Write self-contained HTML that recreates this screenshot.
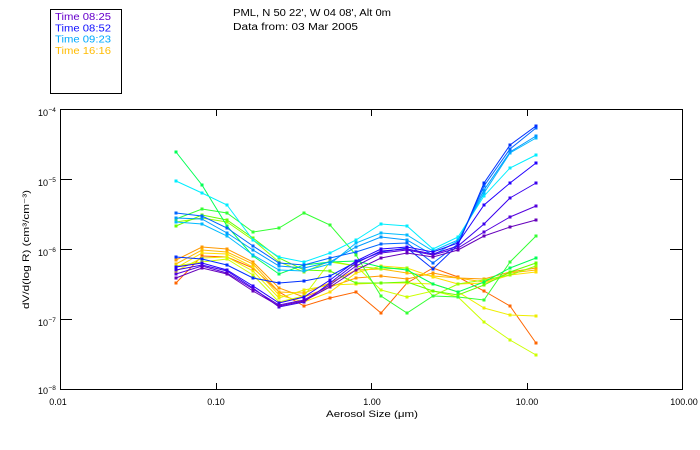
<!DOCTYPE html>
<html>
<head>
<meta charset="utf-8">
<style>
  html, body { margin:0; padding:0; background:#fff; }
  svg { display:block; }
  text { font-family: "Liberation Sans", "DejaVu Sans", sans-serif; }
</style>
</head>
<body>
<svg width="700" height="450" viewBox="0 0 700 450" xmlns="http://www.w3.org/2000/svg">
  <rect x="0" y="0" width="700" height="450" fill="#fff"/>
  <defs>
    <marker id="mV1" markerWidth="3" markerHeight="3" refX="1.5" refY="1.5" markerUnits="userSpaceOnUse"><rect width="3" height="3" fill="#6600bb"/></marker>
    <marker id="mV2" markerWidth="3" markerHeight="3" refX="1.5" refY="1.5" markerUnits="userSpaceOnUse"><rect width="3" height="3" fill="#5500dd"/></marker>
    <marker id="mV3" markerWidth="3" markerHeight="3" refX="1.5" refY="1.5" markerUnits="userSpaceOnUse"><rect width="3" height="3" fill="#3a00ee"/></marker>
    <marker id="mV4" markerWidth="3" markerHeight="3" refX="1.5" refY="1.5" markerUnits="userSpaceOnUse"><rect width="3" height="3" fill="#2200ff"/></marker>
    <marker id="mV5" markerWidth="3" markerHeight="3" refX="1.5" refY="1.5" markerUnits="userSpaceOnUse"><rect width="3" height="3" fill="#0030ff"/></marker>
    <marker id="mC1" markerWidth="3" markerHeight="3" refX="1.5" refY="1.5" markerUnits="userSpaceOnUse"><rect width="3" height="3" fill="#0066ff"/></marker>
    <marker id="mC2" markerWidth="3" markerHeight="3" refX="1.5" refY="1.5" markerUnits="userSpaceOnUse"><rect width="3" height="3" fill="#0099ff"/></marker>
    <marker id="mC3" markerWidth="3" markerHeight="3" refX="1.5" refY="1.5" markerUnits="userSpaceOnUse"><rect width="3" height="3" fill="#00bbff"/></marker>
    <marker id="mC4" markerWidth="3" markerHeight="3" refX="1.5" refY="1.5" markerUnits="userSpaceOnUse"><rect width="3" height="3" fill="#00eeff"/></marker>
    <marker id="mG1" markerWidth="3" markerHeight="3" refX="1.5" refY="1.5" markerUnits="userSpaceOnUse"><rect width="3" height="3" fill="#00ff55"/></marker>
    <marker id="mG2" markerWidth="3" markerHeight="3" refX="1.5" refY="1.5" markerUnits="userSpaceOnUse"><rect width="3" height="3" fill="#33ff33"/></marker>
    <marker id="mG3" markerWidth="3" markerHeight="3" refX="1.5" refY="1.5" markerUnits="userSpaceOnUse"><rect width="3" height="3" fill="#66ff00"/></marker>
    <marker id="mG4" markerWidth="3" markerHeight="3" refX="1.5" refY="1.5" markerUnits="userSpaceOnUse"><rect width="3" height="3" fill="#99ff00"/></marker>
    <marker id="mY2" markerWidth="3" markerHeight="3" refX="1.5" refY="1.5" markerUnits="userSpaceOnUse"><rect width="3" height="3" fill="#ccff00"/></marker>
    <marker id="mY1" markerWidth="3" markerHeight="3" refX="1.5" refY="1.5" markerUnits="userSpaceOnUse"><rect width="3" height="3" fill="#eeee00"/></marker>
    <marker id="mO4" markerWidth="3" markerHeight="3" refX="1.5" refY="1.5" markerUnits="userSpaceOnUse"><rect width="3" height="3" fill="#ffdd00"/></marker>
    <marker id="mO3" markerWidth="3" markerHeight="3" refX="1.5" refY="1.5" markerUnits="userSpaceOnUse"><rect width="3" height="3" fill="#ffbb00"/></marker>
    <marker id="mO2" markerWidth="3" markerHeight="3" refX="1.5" refY="1.5" markerUnits="userSpaceOnUse"><rect width="3" height="3" fill="#ff9900"/></marker>
    <marker id="mO1" markerWidth="3" markerHeight="3" refX="1.5" refY="1.5" markerUnits="userSpaceOnUse"><rect width="3" height="3" fill="#ff6600"/></marker>
  </defs>

  <!-- Legend box -->
  <rect x="50.5" y="9.5" width="71" height="84" fill="none" stroke="#000" stroke-width="1" shape-rendering="crispEdges"/>
  <text x="55" y="20" font-size="10" fill="#6600cc" textLength="56" lengthAdjust="spacingAndGlyphs">Time 08:25</text>
  <text x="55" y="31.3" font-size="10" fill="#1010ff" textLength="56" lengthAdjust="spacingAndGlyphs">Time 08:52</text>
  <text x="55" y="42.7" font-size="10" fill="#00aaff" textLength="56" lengthAdjust="spacingAndGlyphs">Time 09:23</text>
  <text x="55" y="54" font-size="10" fill="#ffbb00" textLength="56" lengthAdjust="spacingAndGlyphs">Time 16:16</text>

  <!-- Title -->
  <text x="233" y="16" font-size="10" fill="#000" textLength="158" lengthAdjust="spacingAndGlyphs">PML, N 50 22', W 04 08', Alt 0m</text>
  <text x="233" y="30" font-size="10" fill="#000" textLength="125" lengthAdjust="spacingAndGlyphs">Data from: 03 Mar 2005</text>

  <!-- Axes box -->
  <g stroke="#000" stroke-width="1" shape-rendering="crispEdges" fill="none">
    <rect x="60.5" y="109.5" width="622" height="280"/>
    <!-- left / right y ticks -->
    <line x1="60" y1="179.5" x2="72" y2="179.5"/>
    <line x1="60" y1="249.5" x2="72" y2="249.5"/>
    <line x1="60" y1="319.5" x2="72" y2="319.5"/>
    <line x1="670" y1="179.5" x2="682" y2="179.5"/>
    <line x1="670" y1="249.5" x2="682" y2="249.5"/>
    <line x1="670" y1="319.5" x2="682" y2="319.5"/>
    <!-- top / bottom x ticks -->
    <line x1="216.5" y1="110" x2="216.5" y2="116"/>
    <line x1="371.5" y1="110" x2="371.5" y2="116"/>
    <line x1="527.5" y1="110" x2="527.5" y2="116"/>
    <line x1="216.5" y1="383" x2="216.5" y2="389"/>
    <line x1="371.5" y1="383" x2="371.5" y2="389"/>
    <line x1="527.5" y1="383" x2="527.5" y2="389"/>
  </g>

  <!-- Y tick labels -->
  <g font-size="9" fill="#000">
    <text x="38" y="116">10</text><text x="48.5" y="112" font-size="6.5">−4</text>
    <text x="38" y="186">10</text><text x="48.5" y="182" font-size="6.5">−5</text>
    <text x="38" y="256">10</text><text x="48.5" y="252" font-size="6.5">−6</text>
    <text x="38" y="326">10</text><text x="48.5" y="322" font-size="6.5">−7</text>
    <text x="38" y="394">10</text><text x="48.5" y="390" font-size="6.5">−8</text>
  </g>

  <!-- X tick labels -->
  <g font-size="9" fill="#000" text-anchor="middle">
    <text x="58" y="405">0.01</text>
    <text x="216" y="405">0.10</text>
    <text x="372" y="405">1.00</text>
    <text x="527" y="405">10.00</text>
    <text x="684" y="405">100.00</text>
  </g>

  <!-- Axis titles -->
  <text x="372" y="417" font-size="9.5" fill="#000" text-anchor="middle" textLength="92" lengthAdjust="spacingAndGlyphs">Aerosol Size (μm)</text>
  <text transform="translate(29,249.5) rotate(-90)" x="0" y="0" font-size="9.5" fill="#000" text-anchor="middle" textLength="119" lengthAdjust="spacingAndGlyphs">dV/d(log R) (cm³/cm⁻³)</text>

  <!-- Series -->
  <g fill="none" stroke-width="1">
    <polyline stroke="#ff6600" style="marker:url(#mO1)" points="176,283 202,256 227,257 253,268 279,292 304,306 330,298 356,292 381,313 407,283 433,268 458,277 484,291 510,306 536,343"/>
    <polyline stroke="#ff9900" style="marker:url(#mO2)" points="176,260 202,247 227,249 253,262 279,288 304,297 330,287 356,278 381,276 407,279 433,273 458,278 484,279 510,272 536,268"/>
    <polyline stroke="#ffbb00" style="marker:url(#mO3)" points="176,264 202,250 227,252 253,264 279,292 304,293 330,283 356,270 381,269 407,273 433,276 458,278 484,282 510,273 536,270"/>
    <polyline stroke="#ffdd00" style="marker:url(#mO4)" points="176,268 202,253 227,254 253,267 279,295 304,302 330,292 356,273 381,266 407,268 433,277 458,284 484,283 510,275 536,272"/>
    <polyline stroke="#eeee00" style="marker:url(#mY1)" points="176,271 202,258 227,257 253,271 279,298 304,290 330,285 356,284 381,283 407,283 433,284 458,292 484,308 510,315 536,316"/>
    <polyline stroke="#ccff00" style="marker:url(#mY2)" points="176,266 202,262 227,259 253,275 279,302 304,296 330,262 356,266 381,290 407,297 433,291 458,297 484,322 510,340 536,355"/>
    <polyline stroke="#99ff00" style="marker:url(#mG4)" points="176,222 202,218 227,222 253,240 279,262 304,272 330,261 356,266 381,269 407,268 433,296 458,284 484,280 510,275 536,266"/>
    <polyline stroke="#66ff00" style="marker:url(#mG3)" points="176,226 202,215 227,220 253,238 279,258 304,270 330,271 356,283 381,283 407,282 433,291 458,295 484,285 510,272 536,263"/>
    <polyline stroke="#33ff33" style="marker:url(#mG2)" points="176,219 202,209 227,213 253,232 279,228 304,213 330,225 356,255 381,296 407,313 433,296 458,297 484,300 510,262 536,236"/>
    <polyline stroke="#00ff55" style="marker:url(#mG1)" points="176,152 202,185 227,226 253,256 279,274 304,265 330,262 356,261 381,267 407,270 433,284 458,292 484,282 510,268 536,258"/>
    <polyline stroke="#00eeff" style="marker:url(#mC4)" points="176,181 202,193 227,205 253,240 279,257 304,262 330,253 356,240 381,224 407,226 433,249 458,237 484,196 510,168 536,155"/>
    <polyline stroke="#00bbff" style="marker:url(#mC3)" points="176,222 202,224 227,236 253,255 279,270 304,271 330,264 356,243 381,233 407,235 433,251 458,240 484,193 510,153 536,138"/>
    <polyline stroke="#0099ff" style="marker:url(#mC2)" points="176,218 202,219 227,233 253,250 279,266 304,268 330,262 356,247 381,237 407,240 433,255 458,241 484,190 510,152 536,136"/>
    <polyline stroke="#0066ff" style="marker:url(#mC1)" points="176,213 202,216 227,228 253,246 279,263 304,265 330,258 356,252 381,244 407,243 433,263 458,244 484,186 510,149 536,128"/>
    <polyline stroke="#0030ff" style="marker:url(#mV5)" points="176,257 202,259 227,265 253,278 279,283 304,281 330,276 356,262 381,252 407,248 433,269 458,245 484,183 510,145 536,126"/>
    <polyline stroke="#2200ff" style="marker:url(#mV4)" points="176,267 202,263 227,270 253,286 279,303 304,297 330,280 356,261 381,249 407,247 433,252 458,243 484,205 510,183 536,163"/>
    <polyline stroke="#3a00ee" style="marker:url(#mV3)" points="176,270 202,265 227,271 253,288 279,307 304,302 330,283 356,263 381,251 407,249 433,254 458,246 484,224 510,198 536,183"/>
    <polyline stroke="#5500dd" style="marker:url(#mV2)" points="176,274 202,266 227,273 253,289 279,305 304,300 330,285 356,266 381,253 407,250 433,255 458,248 484,232 510,217 536,206"/>
    <polyline stroke="#6600bb" style="marker:url(#mV1)" points="176,278 202,268 227,274 253,291 279,306 304,301 330,287 356,270 381,258 407,253 433,257 458,250 484,236 510,227 536,220"/>
  </g>
</svg>
</body>
</html>
